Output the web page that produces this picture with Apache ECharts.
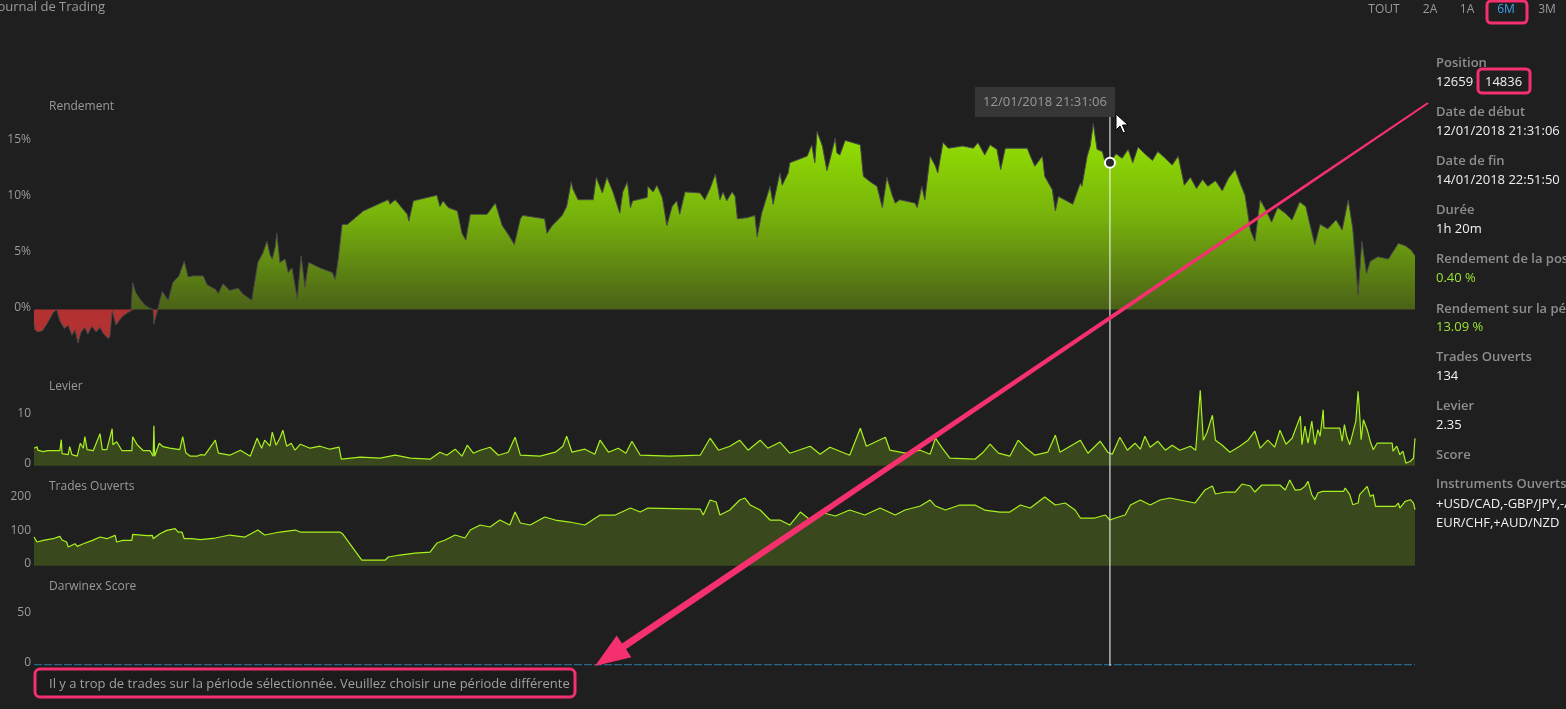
<!DOCTYPE html>
<html><head><meta charset="utf-8">
<script src="https://cdn.jsdelivr.net/npm/echarts@6/dist/echarts.min.js"></script>
<style>html,body{margin:0;padding:0;background:#1f1f1f;}#c{width:1566px;height:709px;}</style>
</head><body><div id="c"></div>
<script>
// ---- Rendement (%), x in days of the 6M window ----
const rendJours = [0,0.1,0.5,1.1,1.6,2.1,2.5,3.0,3.4,4.0,4.5,5.0,5.4,5.8,6.2,6.7,7.1,7.6,8.2,8.7,9.2,9.8,10.0,10.3,10.5,10.8,11.2,11.7,12.3,12.8,
13.0,13.4,14.0,14.6,15.3,15.7,15.8,16.3,16.9,17.3,17.7,18.3,19.1,19.8,20.3,21.0,22.3,22.8,23.9,24.3,24.9,25.8,26.9,27.5,28.7,29.5,30.2,30.7,31.1,31.4,31.8,32.0,32.4,33.1,33.5,34.0,34.7,35.2,35.7,36.2,37.7,39.3,39.7,40.1,40.6,41.3,43.4,46.0,46.7,46.9,47.6,49.2,49.4,50.0,
53.1,53.5,53.9,54.6,55.8,56.4,56.9,57.5,59.7,60.8,61.7,62.5,63.3,64.1,64.4,67.3,67.6,68.3,69.6,70.2,70.8,71.0,71.7,73.7,74.1,74.9,75.5,76.3,77.2,77.6,78.2,78.6,78.9,80.8,80.9,81.6,82.1,82.8,83.4,84.1,84.7,85.1,85.8,87.8,88.4,89.1,89.8,90.4,90.8,91.3,92.0,92.4,
92.7,94.0,95.0,95.3,95.9,97.0,97.4,98.3,98.6,99.4,99.6,101.9,102.5,102.9,103.2,103.9,104.5,104.9,105.6,105.8,106.2,106.9,108.9,109.3,110.2,111.1,111.8,112.4,113.1,113.5,114.1,116.1,116.4,117.0,117.4,118.1,118.8,119.1,119.8,120.5,122.4,123.8,124.4,125.3,126.0,126.9,127.4,128.0,130.9,131.5,131.9,132.9,133.2,134.2,134.6,135.0,136.9,137.9,138.1,138.8,139.2,139.6,140.1,140.8,141.3,141.8,
142.6,143.4,144.2,144.8,145.5,146.4,147.4,148.1,149.1,150.0,150.8,151.6,152.4,153.2,154.0,154.7,155.7,156.6,157.4,158.3,159.0,159.6,160.3,160.9,161.6,162.4,163.1,163.9,164.9,165.8,166.8,167.6,168.4,168.8,169.5,170.5,171.6,172.4,173.2,173.8,174.5,175.0,175.6,176.1,177.1,178.5,179.8,180.7,181.5,182.0];
const rendValeurs = [-1.2,-1.8,-2.0,-1.9,-1.4,-0.8,-0.3,0,-1.0,-1.7,-1.4,-2.3,-1.8,-3.0,-2.0,-1.6,-2.2,-1.5,-2.0,-1.6,-2.2,-2.6,-2.4,-0.1,-0.6,-1.4,-1.0,-0.6,-0.3,-0.1,
2.4,1.5,0.9,0.4,0.1,0,-1.3,0,1.6,1.2,0.8,2.4,3.0,4.3,2.9,3.0,3.0,2.2,1.8,1.4,2.3,1.7,1.9,1.4,0.8,4.2,5.1,6.1,4.9,4.5,5.6,6.8,4.2,4.5,3.3,3.7,0.9,4.8,2.0,4.2,3.7,3.3,2.7,4.5,7.6,7.6,8.8,9.6,9.8,9.4,9.8,8.5,7.9,9.7,
10.2,9.2,9.7,9.1,8.8,6.8,6.2,8.5,8.5,9.5,7.5,6.7,5.8,8.1,8.4,8.1,6.8,7.5,8.4,9.2,11.4,10.8,9.8,9.8,11.8,10.4,11.8,10.5,8.6,10.5,11.4,9.1,9.7,10.0,11.0,10.5,11.1,10.0,7.5,9.2,9.7,8.5,10.5,10.4,9.8,10.8,12.1,9.8,10.5,9.7,10.5,10.1,
8.1,8.2,8.4,6.5,8.6,11.0,9.4,12.2,11.1,12.2,13.1,13.7,14.7,13.1,15.9,14.6,12.4,13.4,15.3,14.0,13.8,15.1,14.7,11.9,11.4,11.0,9.1,11.8,10.2,9.5,9.8,9.5,9.1,11.0,9.8,13.7,12.8,12.2,14.9,14.4,14.6,14.4,14.9,13.8,14.7,14.3,12.5,14.4,14.4,13.4,12.8,13.7,11.9,10.7,8.8,10.1,9.4,11.3,11.0,13.7,14.6,16.6,14.3,14.1,12.8,13.1,
13.9,13.5,14.3,13.1,14.5,13.9,13.3,14.1,13.5,12.9,13.7,11.1,11.8,10.8,11.6,11.0,11.5,10.6,11.7,12.5,11.2,10.2,7.1,6.1,9.8,8.8,7.8,9.1,8.6,8.0,9.6,9.2,6.9,5.8,7.6,7.2,8.0,7.1,9.8,7.2,1.3,6.1,3.2,4.3,4.7,4.5,5.9,5.7,5.3,4.8];

// ---- Levier ----
const levierJours = [0,0.4,0.5,1.2,1.8,3.4,3.6,3.7,4.5,4.7,5.0,5.7,6.1,6.5,6.7,7.0,7.8,8.7,9.0,9.6,10.3,10.4,10.9,11.6,12.9,13.0,13.6,14.4,15.3,15.7,15.8,15.9,16.5,17.0,17.9,19.2,19.6,20.0,20.6,21.5,21.9,
22.5,23.9,24.3,25.8,27.2,28.5,29.4,30.0,30.4,31.1,31.4,31.9,32.4,32.8,33.3,33.9,34.4,35.1,36.4,37.7,39.0,40.2,40.5,43.0,45.6,47.6,49.6,52.2,53.5,54.4,55.5,56.4,57.1,57.9,58.8,60.1,61.2,62.5,63.4,64.1,66.7,68.7,69.7,70.2,70.9,72.6,73.9,74.6,75.7,77.0,78.0,78.8,79.9,83.8,
87.8,89.1,90.2,91.7,93.0,94.1,95.7,96.7,98.3,99.6,102.3,103.6,104.9,107.5,108.9,109.7,110.8,112.2,112.8,114.8,116.8,118.1,118.8,119.7,120.7,124.0,125.1,126.0,127.1,128.6,129.7,130.6,131.9,133.6,134.6,135.2,137.9,138.9,140.5,141.5,142.1,143.1,144.1,145.1,145.8,146.4,147.1,148.1,149.1,150.0,151.0,152.4,153.1,153.7,154.1,154.6,155.3,155.7,156.6,157.6,158.9,160.0,160.9,161.6,162.6,163.5,164.2,165.0,165.8,166.4,
166.9,167.1,167.5,167.9,168.4,168.8,169.2,169.5,169.9,170.0,172.1,172.4,172.7,173.0,173.4,173.8,174.2,174.5,174.7,174.9,175.2,175.7,176.1,176.5,177.0,179.0,179.1,179.6,180.0,180.4,180.8,181.4,181.8,182.0];
const levierValeurs = [3.5,3.8,3.1,2.8,3.0,3.0,5.2,2.4,2.2,3.8,2.2,1.9,4.5,3.5,5.8,3.2,3.0,6.4,3.2,3.2,7.4,4.2,4.8,3.0,3.0,5.8,4.2,3.0,3.0,1.9,8.0,1.9,4.5,3.8,3.5,3.2,5.8,2.6,1.9,1.9,2.2,
2.1,5.1,2.5,2.1,3.1,1.9,5.5,3.5,5.1,3.9,6.7,4.1,5.5,7.1,3.9,4.5,3.1,4.3,3.5,3.9,3.3,3.7,1.3,1.7,1.5,2.1,1.5,1.3,2.7,2.1,3.3,1.9,4.1,2.5,3.1,3.7,2.1,2.7,5.7,2.1,1.9,2.7,3.9,5.9,2.7,3.3,2.3,5.1,2.7,3.5,2.5,4.9,2.1,1.9,
2.1,5.5,3.1,3.9,5.1,3.1,5.1,3.5,4.7,2.5,3.9,2.3,3.7,2.1,7.5,3.9,4.7,5.7,3.1,2.5,3.1,2.3,5.5,3.5,1.5,1.3,2.7,4.3,2.5,1.9,5.1,3.7,2.1,2.7,6.1,2.7,5.1,2.5,4.9,2.7,2.3,5.7,3.1,4.5,3.3,5.9,3.7,4.9,3.1,4.1,3.1,3.9,3.1,15.1,5.1,6.7,10.1,5.1,4.1,2.7,3.9,5.1,6.9,3.5,5.1,3.7,7.1,4.3,5.5,7.9,
9.9,4.2,7.9,4.5,8.9,4.2,7.2,5.9,11.2,7.5,7.5,4.9,8.2,5.9,4.2,6.5,8.9,14.9,10.5,5.2,9.2,7.2,4.9,3.2,4.5,4.5,2.9,3.9,2.2,2.9,0.5,0.9,1.5,5.5];

// ---- Trades Ouverts ----
const tradesJours = [0,0.4,1.2,2.5,3.4,3.7,4.3,4.5,5.4,5.7,6.5,7.7,8.7,9.6,10.7,10.9,11.7,12.9,13.0,14.9,15.6,15.7,16.6,17.5,18.6,19.0,19.5,19.8,20.8,21.9,
23.9,25.8,27.8,29.5,30.4,32.4,34.4,35.1,40.3,40.7,43.2,46.3,46.7,48.2,50.2,52.2,53.1,54.2,55.5,56.8,57.5,58.8,60.1,61.4,62.7,63.4,64.1,65.4,67.3,68.7,70.6,72.6,74.6,76.6,78.6,79.9,80.9,87.8,88.2,89.1,89.9,90.4,91.7,93.0,93.7,94.4,95.7,97.0,98.3,99.6,
101.0,102.3,103.6,105.6,107.5,109.5,111.5,113.5,114.8,116.8,118.1,118.8,120.1,122.0,124.0,125.3,127.3,128.6,130.0,131.3,133.2,134.6,135.9,137.2,137.9,139.8,141.2,141.8,142.5,143.8,144.5,145.8,147.1,148.4,149.7,151.0,153.0,154.3,155.3,155.7,157.0,158.3,159.2,160.3,160.9,161.8,164.2,164.9,165.5,166.2,
166.9,167.5,167.9,168.4,168.8,169.2,169.8,172.6,172.8,173.4,173.8,174.5,174.7,175.7,175.8,176.1,176.5,176.8,179.4,179.8,180.0,180.7,181.4,181.8,182.0];
const tradesValeurs = [86,71,76,81,88,77,71,56,66,58,66,76,86,81,91,71,76,76,94,90,91,81,96,106,111,101,101,81,81,78,
83,92,86,107,92,101,107,101,101,95,17,17,26,32,38,41,68,77,92,83,107,122,116,137,122,161,128,122,146,137,131,122,152,152,173,161,173,170,152,197,191,152,167,197,203,182,167,137,137,122,
161,137,161,149,167,152,173,152,167,179,197,179,167,182,182,167,161,161,182,173,206,182,188,167,143,143,152,137,143,152,182,197,182,197,203,197,188,227,239,215,221,221,245,239,221,242,242,227,257,227,
228,238,253,213,198,218,223,223,233,213,183,188,213,238,243,208,213,178,178,188,173,193,198,188,168];

// ---- Darwinex Score ----
const scoreJours = [0, 182];
const scoreValeurs = [0, 0];

// ---- Axis labels ----
const rendTicks = [0, 5, 10, 15];
const levierTicks = [0, 10];
const tradesTicks = [0, 100, 200];
const scoreTicks = [0, 50];

const positionDay = 141.8;     // 12/01/2018 21:31:06
const positionRend = 13.1;

const pairs = (xs, ys, f) => xs.map((x, i) => [x, f ? f(ys[i]) : ys[i]]);

const chart = echarts.init(document.getElementById('c'));
const FONT = "'Open Sans', 'Noto Sans', sans-serif";
const lab = (ticks, fmt) => ({
  show: true, customValues: ticks, color: '#9a9a9a', fontSize: 12, fontFamily: FONT,
  margin: 3, verticalAlign: 'bottom', lineHeight: 4, formatter: fmt || '{value}'
});
const yAx = (i, min, max, ticks, fmt) => ({
  type: 'value', gridIndex: i, min: min, max: max,
  axisLine: { show: false }, axisTick: { show: false }, splitLine: { show: false },
  axisLabel: lab(ticks, fmt)
});
const xAx = i => ({ type: 'value', gridIndex: i, min: 0, max: 182, show: false });

const G = { left: 34, right: 151 };
chart.setOption({
  backgroundColor: '#1f1f1f',
  animation: false,
  grid: [
    Object.assign({ top: 119.1, height: 235.2 }, G),
    Object.assign({ top: 385.7, height: 80 }, G),
    Object.assign({ top: 475.7, height: 90 }, G),
    Object.assign({ top: 584.7, height: 81 }, G)
  ],
  xAxis: [xAx(0), xAx(1), xAx(2), xAx(3)],
  yAxis: [
    yAx(0, -4, 17, rendTicks, '{value}%'),
    yAx(1, 0, 16, levierTicks),
    yAx(2, 0, 270, tradesTicks),
    yAx(3, -1, 80, scoreTicks)
  ],
  series: [
    { type: 'line', xAxisIndex: 0, yAxisIndex: 0, symbol: 'none', silent: true,
      data: pairs(rendJours, rendValeurs, v => Math.max(v, 0)),
      lineStyle: { width: 0 },
      areaStyle: { opacity: 1, color: new echarts.graphic.LinearGradient(0, 0, 0, 1, [
        { offset: 0, color: '#97e600' }, { offset: 0.5, color: '#77b20c' }, { offset: 1, color: '#4a6118' }]) } },
    { type: 'line', xAxisIndex: 0, yAxisIndex: 0, symbol: 'none', silent: true,
      data: pairs(rendJours, rendValeurs, v => Math.min(v, 0)),
      lineStyle: { width: 0 }, areaStyle: { opacity: 1, color: '#b33131' } },
    { type: 'line', xAxisIndex: 0, yAxisIndex: 0, symbol: 'none', silent: true,
      data: pairs(rendJours, rendValeurs),
      lineStyle: { width: 1, color: '#484848' } },
    { type: 'line', xAxisIndex: 1, yAxisIndex: 1, symbol: 'none', silent: true,
      data: pairs(levierJours, levierValeurs),
      lineStyle: { width: 1.2, color: '#a8f01e' }, areaStyle: { opacity: 1, color: '#3a481d' } },
    { type: 'line', xAxisIndex: 2, yAxisIndex: 2, symbol: 'none', silent: true,
      data: pairs(tradesJours, tradesValeurs),
      lineStyle: { width: 1.2, color: '#a8f01e' }, areaStyle: { opacity: 1, color: '#3a481d' } },
    { type: 'line', xAxisIndex: 3, yAxisIndex: 3, symbol: 'none', silent: true,
      data: pairs(scoreJours, scoreValeurs),
      lineStyle: { width: 1, color: '#2a7aa3', type: [8, 2] } }
  ]
});

const PINK = '#f5306e';
const cx = chart.convertToPixel({ xAxisIndex: 0 }, positionDay);
const cp = chart.convertToPixel({ gridIndex: 0 }, [positionDay, positionRend]);
const txt = (x, y, s, o) => ({ type: 'text', x: x, y: y, z: 50,
  style: Object.assign({ text: s, fill: '#9a9a9a', font: '12px ' + FONT, verticalAlign: 'middle' }, o || {}) });
const g = [];
// top title and period buttons
g.push(txt(-6, 7, 'Journal de Trading', { font: '13px ' + FONT, fill: '#9a9a9a' }));
[['TOUT', 1384], ['2A', 1430], ['1A', 1467], ['6M', 1506], ['3M', 1547]].forEach(b => {
  g.push(txt(b[1], 10, b[0], { align: 'center', font: '12px ' + FONT, fill: b[0] === '6M' ? '#3aa4ec' : '#9a9a9a' }));
});
// panel titles
[['Rendement', 107], ['Levier', 387], ['Trades Ouverts', 487], ['Darwinex Score', 587]].forEach(t => {
  g.push(txt(49, t[1], t[0], { font: '12px ' + FONT, fill: '#9a9a9a' }));
});
// right info panel
const L = (y, s) => g.push(txt(1436, y, s, { font: '600 13px ' + FONT, fill: '#8e8e8e' }));
const V = (y, s, c, x) => g.push(txt(x || 1436, y, s, { font: '13px ' + FONT, fill: c || '#f0f0f0' }));
L(63, 'Position'); V(82, '12659'); V(82, '14836', null, 1485);
L(112, 'Date de début'); V(131, '12/01/2018 21:31:06');
L(161, 'Date de fin'); V(180, '14/01/2018 22:51:50');
L(210, 'Durée'); V(229, '1h 20m');
L(259, 'Rendement de la position'); V(278, '0.40 %', '#9be233');
L(309, 'Rendement sur la période'); V(327, '13.09 %', '#9be233');
L(357, 'Trades Ouverts'); V(376, '134');
L(406, 'Levier'); V(425, '2.35');
L(455, 'Score');
L(484, 'Instruments Ouverts'); V(504, '+USD/CAD,-GBP/JPY,-AUD/JPY,'); V(523, 'EUR/CHF,+AUD/NZD');
// crosshair
g.push({ type: 'line', z: 30, shape: { x1: cx, y1: 116, x2: cx, y2: 666 }, style: { stroke: '#ffffff', lineWidth: 1 } });
g.push({ type: 'circle', z: 31, shape: { cx: cp[0], cy: cp[1], r: 5 }, style: { fill: '#2a2a2a', stroke: '#ffffff', lineWidth: 2 } });
g.push({ type: 'rect', z: 32, shape: { x: 975, y: 87, width: 140, height: 30 }, style: { fill: '#363636' } });
g.push(txt(1045, 102, '12/01/2018 21:31:06', { align: 'center', font: '13px ' + FONT, fill: '#999999' }));
g.push({ type: 'polygon', z: 60, shape: { points: [[1116,114],[1116,130],[1120,126],[1123,133],[1125.5,132],[1122.5,125],[1128,125]] },
  style: { fill: '#ffffff', stroke: '#000000', lineWidth: 1 } });
// message box
g.push({ type: 'rect', z: 40, shape: { x: 35, y: 669, width: 540, height: 28, r: 5 }, style: { fill: '#1b1b1b', stroke: PINK, lineWidth: 3 } });
g.push(txt(49, 684, 'Il y a trop de trades sur la période sélectionnée. Veuillez choisir une période différente', { font: '13px ' + FONT, fill: '#a0a0a0' }));
// pink annotations
g.push({ type: 'rect', z: 70, shape: { x: 1487, y: 1, width: 40, height: 22, r: 4 }, style: { fill: 'none', stroke: PINK, lineWidth: 3 } });
g.push({ type: 'rect', z: 70, shape: { x: 1478, y: 69, width: 52, height: 24, r: 4 }, style: { fill: 'none', stroke: PINK, lineWidth: 3 } });
g.push({ type: 'polygon', z: 70, shape: { points: [[1428.6,103.8],[626,649.3],[631.3,657.2],[595,666],[616.7,635.6],[622,643.5],[1427.4,102.2]] },
  style: { fill: PINK } });
chart.setOption({ graphic: g });
</script>
</body></html>
